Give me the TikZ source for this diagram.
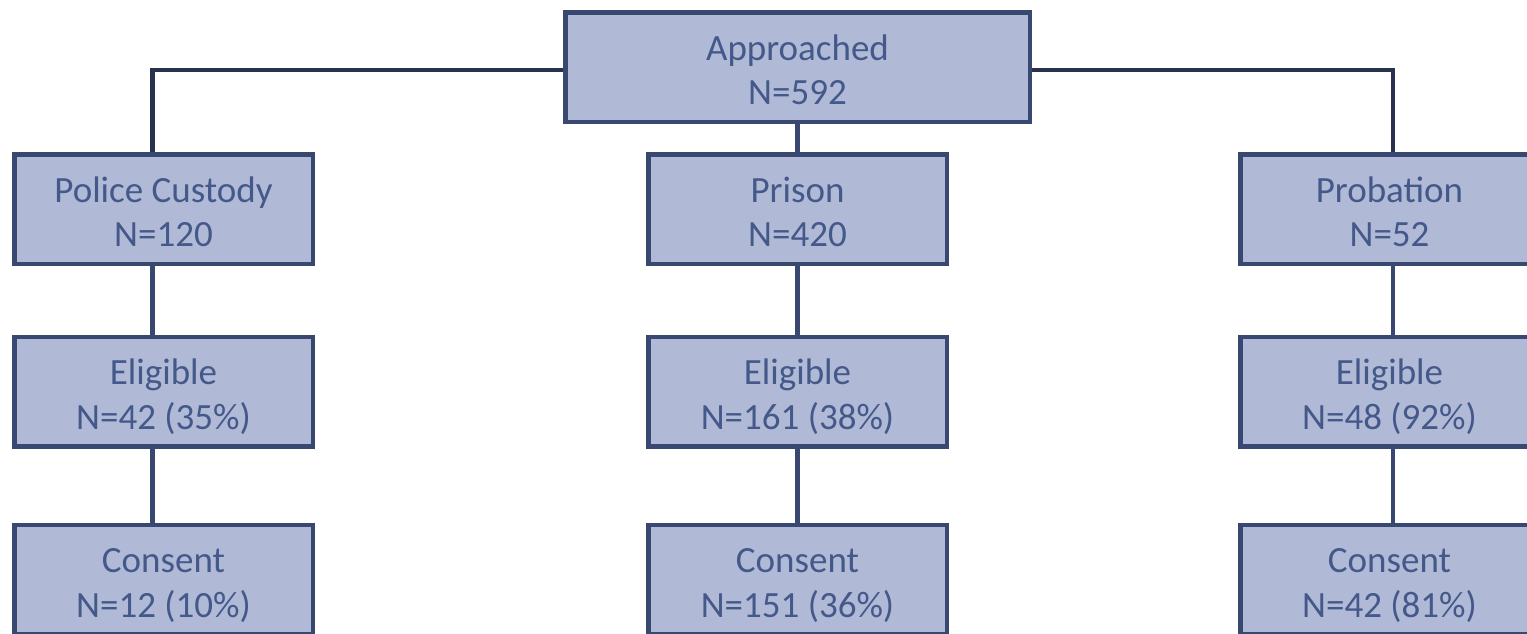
\documentclass[tikz,border=0pt]{standalone}
\usepackage{fontspec}
\setmainfont{Carlito}
\definecolor{boxfill}{RGB}{176,186,214}
\definecolor{boxline}{RGB}{57,72,112}
\definecolor{boxtext}{RGB}{68,88,138}
\definecolor{barline}{RGB}{40,49,78}

\begin{document}
\begin{tikzpicture}[x=1pt,y=1pt,line width=4.5pt,
		font=\fontsize{37}{44.5}\selectfont]
		\tikzstyle{stage}=[draw=boxline,fill=boxfill,text=boxtext,align=center,
			minimum width=298.5pt,minimum height=109.5pt,inner sep=0pt,
			text height=75pt,text depth=0pt]
		\tikzstyle{link}=[draw=boxline]
		\tikzstyle{bar}=[draw=barline]
		
		\clip (0,0) rectangle (1527,-633);
		\fill[white] (0,0) rectangle (1527,-633);
		
		\node[stage,minimum width=464.5pt] (appr) at (797.5,-67) {Approached\\N=592};
		
		\node[stage] (pc) at (163.5,-209)   {Police Custody\\N=120};
		\node[stage] (pr) at (797.5,-209)   {Prison\\N=420};
		\node[stage] (pb) at (1389.5,-209)  {Probation\\N=52};
		
		\node[stage] (pce) at (163.5,-391.5)  {Eligible\\N=42 (35\%)};
		\node[stage] (pre) at (797.5,-391.5)  {Eligible\\N=161 (38\%)};
		\node[stage] (pbe) at (1389.5,-391.5) {Eligible\\N=48 (92\%)};
		
		\node[stage] (pcc) at (163.5,-579.5)  {Consent\\N=12 (10\%)};
		\node[stage] (prc) at (797.5,-579.5)  {Consent\\N=151 (36\%)};
		\node[stage] (pbc) at (1389.5,-579.5) {Consent\\N=42 (81\%)};
		
		% top split
		\draw[bar] ([yshift=-3pt]appr.west) -| ([xshift=-11pt]pc.north);
		\draw[bar] ([yshift=-3pt]appr.east) -| ([xshift=3.5pt]pb.north);
		\draw[link] (appr) -- (pr);
		
		% columns
		\draw[link] ([xshift=-11pt]pc.south) -- ([xshift=-11pt]pce.north);
		\draw[link] ([xshift=-11pt]pce.south) -- ([xshift=-11pt]pcc.north);
		\draw[link] (pr) -- (pre);
		\draw[link] (pre) -- (prc);
		\draw[link] ([xshift=3.5pt]pb.south) -- ([xshift=3.5pt]pbe.north);
		\draw[link] ([xshift=3.5pt]pbe.south) -- ([xshift=3.5pt]pbc.north);
\end{tikzpicture}
\end{document}
